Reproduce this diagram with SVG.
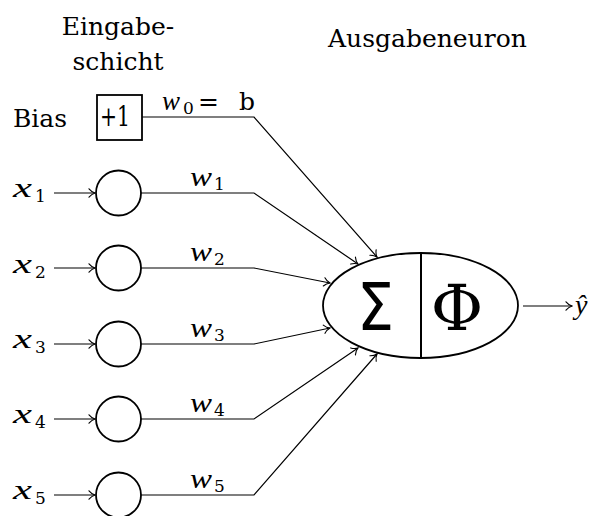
<svg xmlns="http://www.w3.org/2000/svg" width="598" height="516" viewBox="0 0 598 516">
  <style>
    .lbl { font-family: "DejaVu Serif", "Liberation Serif", serif; font-size: 25px; fill: #000; }
    .var { font-family: "Liberation Serif", "DejaVu Serif", serif; font-style: italic; font-size: 28px; fill: #000; }
    .sub { font-family: "DejaVu Serif", "Liberation Serif", serif; font-size: 17px; fill: #000; }
    .node { fill: #fff; stroke: #000; stroke-width: 1.8; }
    .edge { fill: none; stroke: #000; stroke-width: 1.2; }
    .arrow { marker-end: url(#tip); }
  </style>
  <defs>
    <marker id="tip" markerUnits="userSpaceOnUse" viewBox="-7 -5 8 10" refX="0" refY="0" markerWidth="8" markerHeight="10" orient="auto">
      <path d="M -6 -4.2 C -4 -1.7 -1.3 -0.4 0 0 C -1.3 0.4 -4 1.7 -6 4.2" fill="none" stroke="#000" stroke-width="1.1" stroke-linecap="round"/>
    </marker>
  </defs>

  <rect width="598" height="516" fill="#fff"/>

  <!-- layer captions -->
  <text class="lbl" x="118" y="35" text-anchor="middle">Eingabe-</text>
  <text class="lbl" x="118" y="70" text-anchor="middle">schicht</text>
  <text class="lbl" x="328" y="47">Ausgabeneuron</text>

  <!-- connectors -->
  <g id="connectors">
    <!-- input arrows -->
    <line class="edge arrow" x1="54" y1="193" x2="95" y2="193"/>
    <line class="edge arrow" x1="54" y1="268" x2="95" y2="268"/>
    <line class="edge arrow" x1="54" y1="344" x2="95" y2="344"/>
    <line class="edge arrow" x1="54" y1="419" x2="95" y2="419"/>
    <line class="edge arrow" x1="54" y1="495" x2="95" y2="495"/>
    <!-- weighted edges to the neuron -->
    <polyline class="edge arrow" points="142,117 254,117 377,257"/>
    <polyline class="edge arrow" points="141,193 254,193 358,264"/>
    <polyline class="edge arrow" points="141,268 254,268 330,283"/>
    <polyline class="edge arrow" points="141,344 254,344 330,328"/>
    <polyline class="edge arrow" points="141,419 254,419 358,348"/>
    <polyline class="edge arrow" points="141,495 254,495 377,354"/>
    <!-- output -->
    <line class="edge arrow" x1="523" y1="306" x2="572" y2="306"/>
  </g>

  <!-- weight labels -->
  <g id="weights">
    <text class="var" x="162" y="110" textLength="18" lengthAdjust="spacingAndGlyphs">w</text>
    <text class="sub" x="183" y="114">0</text>
    <text class="lbl" x="198" y="110">=</text>
    <text class="lbl" x="239" y="110">b</text>

    <text class="var" x="190" y="186" textLength="22" lengthAdjust="spacingAndGlyphs">w</text>
    <text class="sub" x="214" y="190">1</text>
    <text class="var" x="190" y="261" textLength="22" lengthAdjust="spacingAndGlyphs">w</text>
    <text class="sub" x="214" y="265">2</text>
    <text class="var" x="190" y="337" textLength="22" lengthAdjust="spacingAndGlyphs">w</text>
    <text class="sub" x="214" y="341">3</text>
    <text class="var" x="190" y="412" textLength="22" lengthAdjust="spacingAndGlyphs">w</text>
    <text class="sub" x="214" y="416">4</text>
    <text class="var" x="190" y="488" textLength="22" lengthAdjust="spacingAndGlyphs">w</text>
    <text class="sub" x="214" y="492">5</text>
  </g>

  <!-- bias node -->
  <g id="bias">
    <text class="lbl" x="13" y="127">Bias</text>
    <rect class="node" x="97" y="95" width="45" height="45"/>
    <text class="lbl" x="100" y="126" style="font-size:28px" textLength="30" lengthAdjust="spacingAndGlyphs">+1</text>
  </g>

  <!-- input nodes -->
  <g id="input1">
    <text class="var" x="13" y="197" textLength="19" lengthAdjust="spacingAndGlyphs">x</text>
    <text class="sub" x="35" y="202">1</text>
    <circle class="node" cx="118.5" cy="193" r="22.5"/>
  </g>
  <g id="input2">
    <text class="var" x="13" y="273" textLength="19" lengthAdjust="spacingAndGlyphs">x</text>
    <text class="sub" x="35" y="278">2</text>
    <circle class="node" cx="118.5" cy="268" r="22.5"/>
  </g>
  <g id="input3">
    <text class="var" x="13" y="348" textLength="19" lengthAdjust="spacingAndGlyphs">x</text>
    <text class="sub" x="35" y="353">3</text>
    <circle class="node" cx="118.5" cy="344" r="22.5"/>
  </g>
  <g id="input4">
    <text class="var" x="13" y="423" textLength="19" lengthAdjust="spacingAndGlyphs">x</text>
    <text class="sub" x="35" y="428">4</text>
    <circle class="node" cx="118.5" cy="419" r="22.5"/>
  </g>
  <g id="input5">
    <text class="var" x="13" y="499" textLength="19" lengthAdjust="spacingAndGlyphs">x</text>
    <text class="sub" x="35" y="504">5</text>
    <circle class="node" cx="118.5" cy="495" r="22.5"/>
  </g>

  <!-- output neuron: summation | activation -->
  <g id="neuron">
    <ellipse class="node" cx="420.5" cy="305.5" rx="97.5" ry="52.5" stroke-width="2"/>
    <line x1="421" y1="253" x2="421" y2="358" stroke="#000" stroke-width="2"/>
    <text x="357" y="330" font-family="DejaVu Sans, Liberation Sans, sans-serif" font-size="66" textLength="37" lengthAdjust="spacingAndGlyphs">Σ</text>
    <text x="457" y="330" text-anchor="middle" font-family="DejaVu Serif, Liberation Serif, serif" font-size="64">Φ</text>
  </g>

  <!-- output label -->
  <g id="output">
    <text class="var" x="575" y="314">ŷ</text>
  </g>
</svg>
